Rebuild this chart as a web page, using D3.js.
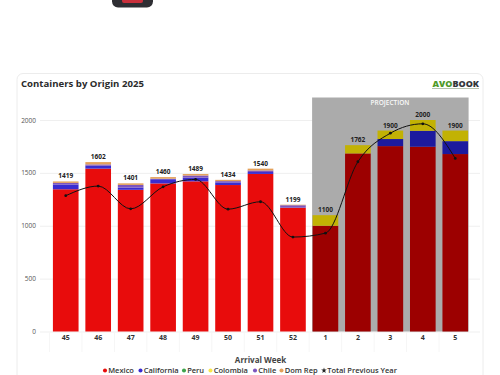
<!DOCTYPE html>
<html>
<head>
<meta charset="utf-8">
<script src="https://cdn.jsdelivr.net/npm/d3@7"></script>
<style>
  html, body { margin: 0; padding: 0; background: #fff; overflow: hidden; }
  text { font-family: "Open Sans", sans-serif; }
</style>
</head>
<body>
<div id="wrapper"></div>
<script>
const weeks = ["45", "46", "47", "48", "49", "50", "51", "52", "1", "2", "3", "4", "5"]
const mexico = [1345, 1540, 1340, 1400, 1420, 1385, 1490, 1170, 1000, 1684, 1753, 1747, 1678]
const california = [45, 28, 20, 40, 35, 25, 18, 0, 0, 0, 67, 151, 122]
const peru = [0, 0, 0, 0, 0, 0, 0, 0, 0, 0, 0, 0, 0]
const colombia = [0, 0, 0, 0, 0, 0, 0, 0, 100, 78, 80, 102, 100]
const chile = [15, 12, 26, 5, 20, 12, 15, 24, 0, 0, 0, 0, 0]
const domRep = [14, 22, 15, 15, 14, 12, 17, 5, 0, 0, 0, 0, 0]
const totals = [1419, 1602, 1401, 1460, 1489, 1434, 1540, 1199, 1100, 1762, 1900, 2000, 1900]
const previousYear = [1284, 1375, 1160, 1368, 1438, 1157, 1227, 893, 930, 1605, 1875, 1964, 1637]
const yTicks = [0, 500, 1000, 1500, 2000]
const projectionWeeks = ["1", "2", "3", "4", "5"]

const seriesNames = ["Mexico", "California", "Peru", "Colombia", "Chile", "Dom Rep"]
const seriesValues = [mexico, california, peru, colombia, chile, domRep]
const seriesColors = ["#e80c0c", "#3a2cd0", "#3fa34d", "#f8e64a", "#7d55bd", "#e3a05a"]
// same series under the grey projection band
const projectionColors = ["#9c0000", "#1c1a9e", "#3fa34d", "#c2b204", "#7d55bd", "#e3a05a"]

const width = 500
const height = 375
const svg = d3.select("#wrapper").append("svg")
    .attr("width", width)
    .attr("height", height)
    .style("display", "block")

// cut-off icon at the top of the screenshot
svg.append("rect").attr("x", 112).attr("y", -12).attr("width", 41).attr("height", 19.5).attr("rx", 6).attr("fill", "#2e2e33")
svg.append("rect").attr("x", 122).attr("y", -8).attr("width", 21).attr("height", 11).attr("rx", 2).attr("fill", "#c9303c")

// card
svg.append("rect")
    .attr("x", 17).attr("y", 73.5)
    .attr("width", 466).attr("height", 340)
    .attr("rx", 6)
    .attr("fill", "#fff")
    .attr("stroke", "#ececec")

svg.append("text")
    .attr("x", 21).attr("y", 87)
    .attr("font-size", 9.6).attr("font-weight", 700)
    .attr("fill", "#2b2b2b")
    .text("Containers by Origin 2025")

const logo = svg.append("text")
    .attr("x", 479).attr("y", 87)
    .attr("text-anchor", "end")
    .attr("font-size", 9).attr("font-weight", 800)
logo.append("tspan").attr("fill", "#4f9a2a").text("AVO")
logo.append("tspan").attr("fill", "#33363a").text("BOOK")
svg.append("rect").attr("x", 432).attr("y", 88).attr("width", 47).attr("height", 1).attr("fill", "#b5c2ad")

const xScale = d3.scaleBand()
    .domain(weeks)
    .range([49.5, 471.5])
    .paddingInner(0.21)
    .paddingOuter(0.105)

const yScale = d3.scaleLinear()
    .domain([0, 2000])
    .range([331.5, 120])

// grid
const yAxis = svg.append("g")
    .attr("transform", "translate(40,0)")
    .call(d3.axisLeft(yScale).tickValues(yTicks).tickSize(-440).tickFormat(d3.format("d")))
yAxis.select(".domain").remove()
yAxis.selectAll("line").attr("stroke", "#efefef")
yAxis.selectAll("text")
    .attr("x", -4)
    .attr("font-size", 6.5)
    .attr("fill", "#555")
    .style("font-family", "'Open Sans', sans-serif")

const xAxis = svg.append("g")
    .attr("transform", "translate(0,331.5)")
    .call(d3.axisBottom(xScale).tickSize(0).tickPadding(4))
xAxis.select(".domain").remove()
xAxis.selectAll("text")
    .attr("font-size", 7)
    .attr("font-weight", 700)
    .attr("fill", "#333")
    .style("font-family", "'Open Sans', sans-serif")

// faint separators under the axis
const step = xScale.step()
svg.append("g").selectAll("line")
    .data(weeks)
    .enter().append("line")
      .attr("x1", d => xScale(d) - (step - xScale.bandwidth()) / 2)
      .attr("x2", d => xScale(d) - (step - xScale.bandwidth()) / 2)
      .attr("y1", 331.5)
      .attr("y2", 352)
      .attr("stroke", "#f6f6f6")

// projection band goes under the bars
const firstProj = projectionWeeks[0]
const lastProj = projectionWeeks[projectionWeeks.length - 1]
svg.append("rect")
    .attr("x", xScale(firstProj) - 0.5)
    .attr("y", 97.5)
    .attr("width", xScale(lastProj) + xScale.bandwidth() - xScale(firstProj) + 1)
    .attr("height", 234)
    .attr("fill", "#ababab")

svg.append("text")
    .attr("x", 390).attr("y", 105)
    .attr("text-anchor", "middle")
    .attr("font-size", 6.5)
    .attr("font-weight", 600)
    .attr("fill", "#fafafa")
    .text("PROJECTION")

// stacked bars
const stackRows = weeks.map((w, i) => {
  const row = { week: w }
  seriesNames.forEach((name, j) => { row[name] = seriesValues[j][i] })
  return row
})
const stacked = d3.stack().keys(seriesNames)(stackRows)
const colorScale = d3.scaleOrdinal().domain(seriesNames).range(seriesColors)
const projectionScale = d3.scaleOrdinal().domain(seriesNames).range(projectionColors)

svg.append("g").selectAll("g")
    .data(stacked)
    .enter().append("g")
    .selectAll("rect")
    .data(d => d.map(v => ({ key: d.key, v: v })))
    .enter().append("rect")
      .attr("x", d => xScale(d.v.data.week))
      .attr("width", xScale.bandwidth())
      .attr("y", d => yScale(d.v[1]))
      .attr("height", d => yScale(d.v[0]) - yScale(d.v[1]))
      .attr("fill", d => projectionWeeks.includes(d.v.data.week) ? projectionScale(d.key) : colorScale(d.key))

// total previous year line
const center = d => xScale(d) + xScale.bandwidth() / 2
const lineGen = d3.line()
    .x((d, i) => center(weeks[i]))
    .y(d => yScale(d))
    .curve(d3.curveMonotoneX)

svg.append("path")
    .attr("d", lineGen(previousYear))
    .attr("fill", "none")
    .attr("stroke", "#111")
    .attr("stroke-width", 1)

svg.append("g").selectAll("circle")
    .data(previousYear)
    .enter().append("circle")
      .attr("cx", (d, i) => center(weeks[i]))
      .attr("cy", d => yScale(d))
      .attr("r", 1.4)
      .attr("fill", "#111")

// totals
svg.append("g").selectAll("text")
    .data(totals)
    .enter().append("text")
      .attr("x", (d, i) => center(weeks[i]))
      .attr("y", d => yScale(d) - 3)
      .attr("text-anchor", "middle")
      .attr("font-size", 6.5)
      .attr("font-weight", 700)
      .attr("fill", "#222")
      .text(d => d)

svg.append("text")
    .attr("x", 260.5).attr("y", 363)
    .attr("text-anchor", "middle")
    .attr("font-size", 8)
    .attr("font-weight", 700)
    .attr("fill", "#444")
    .text("Arrival Week")

// legend, kept just inside the window
const legendNames = seriesNames.concat(["Total Previous Year"])
const legendX = [105, 140.5, 184, 210.5, 255, 281.5, 324]
const legend = svg.append("g").selectAll("g")
    .data(legendNames)
    .enter().append("g")
      .attr("transform", (d, i) => `translate(${legendX[i]},370.5)`)
legend.append("path")
    .attr("d", d => d === "Total Previous Year"
      ? d3.symbol(d3.symbolStar, 10)()
      : d3.symbol(d3.symbolCircle, 13)())
    .attr("fill", d => d === "Total Previous Year" ? "#222" : colorScale(d))
legend.append("text")
    .attr("x", 3.2)
    .attr("y", 2.2)
    .attr("font-size", 7.5)
    .attr("font-weight", 600)
    .attr("fill", "#333")
    .text(d => d)
</script>
</body>
</html>
